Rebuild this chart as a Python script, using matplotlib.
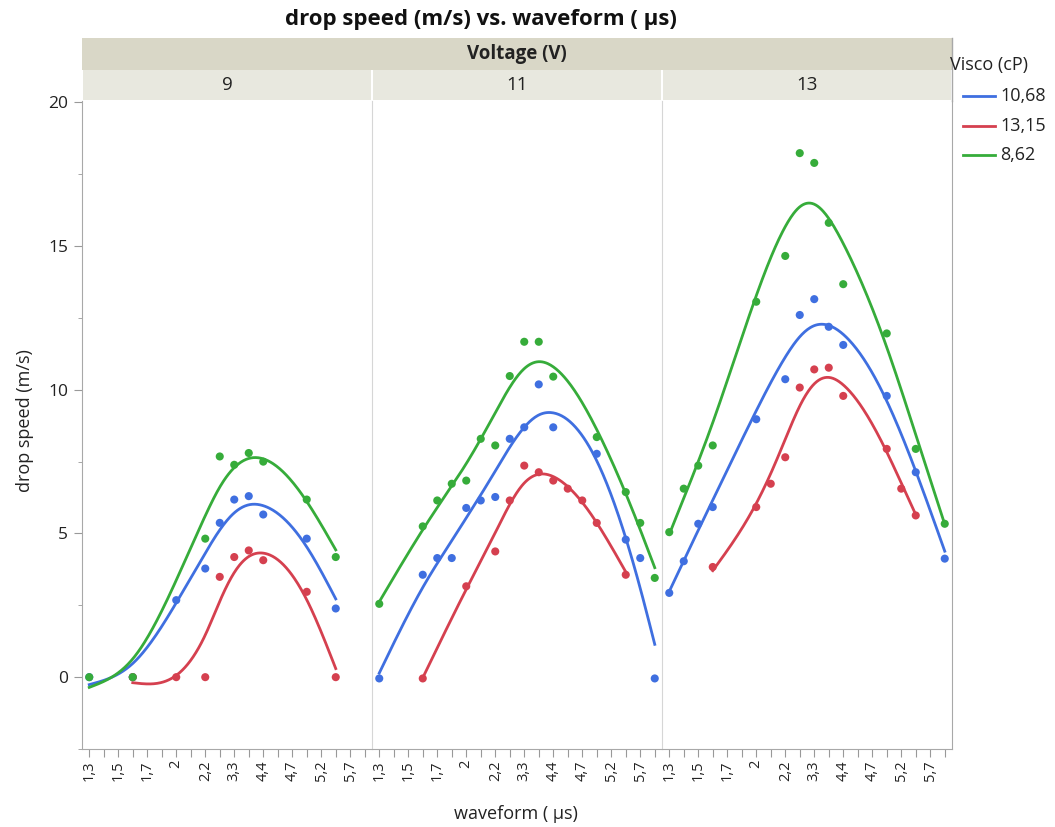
import numpy as np
import matplotlib
matplotlib.use("Agg")
import matplotlib.pyplot as plt
from matplotlib.lines import Line2D
from matplotlib.patches import Rectangle

plt.rcParams['font.family'] = ['Open Sans', 'DejaVu Sans']

# waveform categories (only every other label is shown in the original)
tick_labels = ['1,3', '', '1,5', '', '1,7', '', '2', '', '2,2', '',
               '3,3', '', '4,4', '', '4,7', '', '5,2', '', '5,7', '']
voltages = ['9', '11', '13']
visco = ['10,68', '13,15', '8,62']
colors = ['#3F6FE0', '#D5404F', '#36AC3A']

# V = 9
v9_x_1068 = [0, 3, 6, 8, 9, 10, 11, 12, 15, 17]
v9_y_1068 = [0, 0, 2.68, 3.78, 5.37, 6.18, 6.30, 5.66, 4.82, 2.39]
v9_x_1315 = [3, 6, 8, 9, 10, 11, 12, 15, 17]
v9_y_1315 = [0, 0, 0, 3.49, 4.18, 4.41, 4.07, 2.97, 0]
v9_x_862 = [0, 3, 8, 9, 10, 11, 12, 15, 17]
v9_y_862 = [0, 0, 4.82, 7.68, 7.39, 7.80, 7.50, 6.18, 4.18]

# V = 11
v11_x_1068 = [0, 3, 4, 5, 6, 7, 8, 9, 10, 11, 12, 15, 17, 18, 19]
v11_y_1068 = [0, 3.60, 4.18, 4.18, 5.92, 6.18, 6.30, 8.32, 8.72, 10.21, 8.72, 7.80, 4.82, 4.18, 0]
v11_x_1315 = [3, 6, 8, 9, 10, 11, 12, 13, 14, 15, 17]
v11_y_1315 = [0, 3.20, 4.41, 6.18, 7.39, 7.16, 6.87, 6.59, 6.18, 5.40, 3.60]
v11_x_862 = [0, 3, 4, 5, 6, 7, 8, 9, 10, 11, 12, 15, 17, 18, 19]
v11_y_862 = [2.59, 5.28, 6.18, 6.76, 6.87, 8.32, 8.09, 10.50, 11.69, 11.69, 10.48, 8.38, 6.47, 5.40, 3.49]

# V = 13
v13_x_1068 = [0, 1, 2, 3, 6, 8, 9, 10, 11, 12, 15, 17, 19]
v13_y_1068 = [2.97, 4.07, 5.37, 5.95, 9.00, 10.39, 12.62, 13.17, 12.21, 11.58, 9.81, 7.16, 4.16]
v13_x_1315 = [3, 6, 7, 8, 9, 10, 11, 12, 15, 16, 17]
v13_y_1315 = [3.87, 5.95, 6.76, 7.68, 10.10, 10.73, 10.79, 9.81, 7.97, 6.59, 5.66]
v13_x_862 = [0, 1, 2, 3, 6, 8, 9, 10, 11, 12, 15, 17, 19]
v13_y_862 = [5.08, 6.59, 7.39, 8.09, 13.08, 14.67, 18.24, 17.90, 15.82, 13.69, 11.98, 7.97, 5.37]

panels = [
    [(v9_x_1068, v9_y_1068), (v9_x_1315, v9_y_1315), (v9_x_862, v9_y_862)],
    [(v11_x_1068, v11_y_1068), (v11_x_1315, v11_y_1315), (v11_x_862, v11_y_862)],
    [(v13_x_1068, v13_y_1068), (v13_x_1315, v13_y_1315), (v13_x_862, v13_y_862)],
]


def smooth(x, y, lam):
    # penalized (cubic-spline-like) smoother on a fine grid
    x = np.asarray(x, float)
    y = np.asarray(y, float)
    grid = np.linspace(x.min(), x.max(), 300)
    h = grid[1] - grid[0]
    pos = (x - grid[0]) / h
    i = np.clip(np.floor(pos).astype(int), 0, len(grid) - 2)
    t = pos - i
    W = np.zeros((len(x), len(grid)))
    W[np.arange(len(x)), i] += 1 - t
    W[np.arange(len(x)), i + 1] += t
    D = np.diff(np.eye(len(grid)), 2, axis=0) / h**2
    A = W.T @ W + lam * h * D.T @ D
    f = np.linalg.solve(A, W.T @ y)
    return grid, f


W_PX, H_PX = 1055, 827
fig = plt.figure(figsize=(W_PX / 100, H_PX / 100), dpi=100)

left_px = [82, 372, 662]
pw = 290
top_px, bot_px = 101, 749

axes = []
for k in range(3):
    ax = fig.add_axes([left_px[k] / W_PX, 1 - bot_px / H_PX, pw / W_PX, (bot_px - top_px) / H_PX])
    for j, (xs, ys) in enumerate(panels[k]):
        lam = 0.03 * np.std(xs) ** 3
        gx, gy = smooth(xs, ys, lam)
        ax.plot(gx, gy, color=colors[j], lw=2.0, zorder=2)
        ax.scatter(xs, ys, s=34, color=colors[j], edgecolors='none', zorder=3)
    ax.set_xlim(-0.5, 19.5)
    ax.set_ylim(-2.45, 20.05)
    ax.set_xticks(range(len(tick_labels)))
    ax.set_xticklabels(tick_labels, rotation=90, fontsize=10.5, color='#222222')
    ax.tick_params(axis='x', length=6, color='#999999', pad=2)
    ax.spines['top'].set_visible(False)
    ax.spines['bottom'].set_color('#a8a8a8')
    ax.spines['left'].set_color('#d6d6d6')
    ax.spines['right'].set_visible(False)
    if k == 0:
        ax.spines['left'].set_color('#a8a8a8')
        ax.set_yticks([0, 5, 10, 15, 20])
        ax.set_yticks([-2.5, 2.5, 7.5, 12.5, 17.5], minor=True)
        ax.tick_params(axis='y', which='major', length=6, color='#999999', labelsize=12.5,
                       labelcolor='#222222', pad=4)
        ax.tick_params(axis='y', which='minor', length=3, color='#999999')
    else:
        ax.set_yticks([])
    if k == 2:
        ax.spines['right'].set_visible(True)
        ax.spines['right'].set_color('#a8a8a8')
    axes.append(ax)

# strips
strip_outer = Rectangle((82 / W_PX, 1 - 70 / H_PX), 870 / W_PX, 32 / H_PX,
                        transform=fig.transFigure, facecolor='#D9D7C7', edgecolor='none')
fig.patches.append(strip_outer)
fig.text(517 / W_PX, 1 - 54 / H_PX, 'Voltage (V)', ha='center', va='center',
         fontsize=13.5, fontweight='bold', color='#222222')
for k in range(3):
    r = Rectangle(((left_px[k] + 1) / W_PX, 1 - 100 / H_PX), (pw - 2) / W_PX, 30 / H_PX,
                  transform=fig.transFigure, facecolor='#E8E8DF', edgecolor='none')
    fig.patches.append(r)
    fig.text((left_px[k] + pw / 2) / W_PX, 1 - 85 / H_PX, voltages[k], ha='center', va='center',
             fontsize=13.5, color='#222222')
fig.add_artist(Line2D([952 / W_PX, 952 / W_PX], [1 - 38 / H_PX, 1 - 101 / H_PX],
                      transform=fig.transFigure, color='#a8a8a8', lw=1))

fig.text(481 / W_PX, 1 - 20 / H_PX, 'drop speed (m/s) vs. waveform ( µs)', ha='center', va='center',
         fontsize=16, fontweight='bold', color='#111111')
fig.text(516 / W_PX, 1 - 814 / H_PX, 'waveform ( µs)', ha='center', va='center',
         fontsize=13, color='#222222')
fig.text(25 / W_PX, 1 - 421 / H_PX, 'drop speed (m/s)', ha='center', va='center',
         rotation=90, fontsize=13, color='#222222')

# legend
fig.text(950 / W_PX, 1 - 65 / H_PX, 'Visco (cP)', ha='left', va='center',
         fontsize=13, color='#222222')
legend_y_px = [96, 126, 155]
for lab, c, ypx in zip(visco, colors, legend_y_px):
    fig.add_artist(Line2D([963 / W_PX, 995 / W_PX], [1 - ypx / H_PX, 1 - ypx / H_PX],
                          transform=fig.transFigure, color=c, lw=2))
    fig.text(1000 / W_PX, 1 - ypx / H_PX, lab, ha='left', va='center',
             fontsize=13, color='#222222')

fig.savefig('out.png', dpi=100)
plt.close()
